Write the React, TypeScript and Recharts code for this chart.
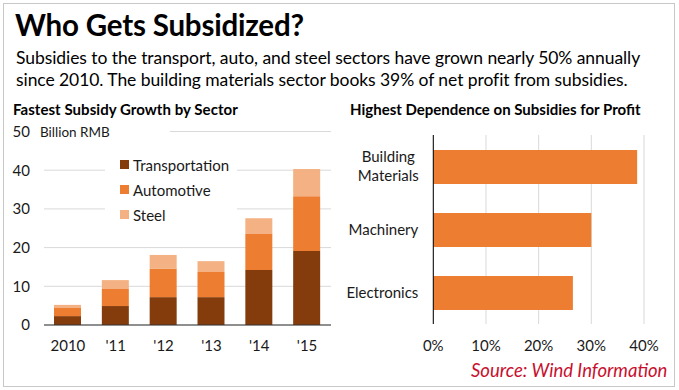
import React from "react";
import {
  BarChart,
  Bar,
  XAxis,
  YAxis,
  CartesianGrid,
  Legend,
} from "recharts";

const years = ["2010", "'11", "'12", "'13", "'14", "'15"];
const transportation = [2.3, 4.9, 7.2, 7.2, 14.2, 19.1];
const automotive = [2.1, 4.4, 7.3, 6.5, 9.3, 14.2];
const steel = [0.8, 2.3, 3.6, 2.8, 4.1, 7.0];
const yTicks = [0, 10, 20, 30, 40, 50];

const sectors = ["Building Materials", "Machinery", "Electronics"];
const dependence = [0.387, 0.3, 0.265];
const pctTicks = [0, 0.1, 0.2, 0.3, 0.4];

const growthData = years.map((y, i) => ({
  year: y,
  Transportation: transportation[i],
  Automotive: automotive[i],
  Steel: steel[i],
}));
const depData = sectors.map((s, i) => ({ sector: s, value: dependence[i] }));

const FONT = "Lato, 'Open Sans', sans-serif";
const C_TRANS = "#843c0c";
const C_AUTO = "#ed7d31";
const C_STEEL = "#f4b183";
const GRID = "#d9d9d9";
const TEXT = "#1a1a1a";

const legendItems = [
  { name: "Transportation", color: C_TRANS },
  { name: "Automotive", color: C_AUTO },
  { name: "Steel", color: C_STEEL },
];

const LegendContent = () => (
  <div style={{ background: "#fff", padding: "0 6px 0 15px" }}>
    {legendItems.map((it) => (
      <div
        key={it.name}
        style={{
          display: "flex",
          alignItems: "center",
          height: 25,
          fontFamily: FONT,
          fontSize: 15,
          color: TEXT,
        }}
      >
        <span
          style={{
            display: "inline-block",
            width: 9,
            height: 9,
            background: it.color,
            marginRight: 4,
          }}
        />
        <span>{it.name}</span>
      </div>
    ))}
  </div>
);

const SectorTick = (props: any) => {
  const { x, y, payload } = props;
  const words: string[] = String(payload.value).split(" ");
  const multi = words.length > 1;
  const lh = 19;
  const start = -((words.length - 1) * lh) / 2;
  return (
    <text
      x={x}
      y={y}
      textAnchor={multi ? "middle" : "end"}
      fontFamily={FONT}
      fontSize={15}
      fill={TEXT}
    >
      {words.map((l, i) => (
        <tspan key={i} x={multi ? x - 37 : x - 7} y={y + start + i * lh} dy="0.35em">
          {l}
        </tspan>
      ))}
    </text>
  );
};

export default function App() {
  return (
    <div
      style={{
        position: "absolute",
        left: 0,
        top: 0,
        width: 679,
        height: 390,
        background: "#fff",
        fontFamily: FONT,
        overflow: "hidden",
      }}
    >
      <div
        style={{
          position: "absolute",
          left: 3,
          top: 3,
          width: 670,
          height: 382,
          border: "1px solid #c8c8c8",
        }}
      />
      <div
        style={{
          position: "absolute",
          left: 15,
          top: 7,
          fontSize: 29.5,
          fontWeight: 700,
          color: "#000",
          letterSpacing: -0.2,
          lineHeight: "36px",
          whiteSpace: "nowrap",
        }}
      >
        Who Gets Subsidized?
      </div>
      <div
        style={{
          position: "absolute",
          left: 16,
          top: 47,
          fontSize: 17.5,
          color: "#000",
          lineHeight: "22px",
          letterSpacing: -0.07,
          whiteSpace: "nowrap",
        }}
      >
        Subsidies to the transport, auto, and steel sectors have grown nearly 50% annually
        <br />
        since 2010. The building materials sector books 39% of net profit from subsidies.
      </div>

      {/* Left chart */}
      <div
        style={{
          position: "absolute",
          left: 13,
          top: 100,
          fontSize: 15,
          fontWeight: 700,
          color: "#000",
          whiteSpace: "nowrap",
          letterSpacing: 0.05,
        }}
      >
        Fastest Subsidy Growth by Sector
      </div>
      <div style={{ position: "absolute", left: 0, top: 0 }}>
        <BarChart
          width={340}
          height={390}
          data={growthData}
          margin={{ top: 131.5, right: 9, left: 0, bottom: 35 }}
        >
          <CartesianGrid vertical={false} stroke={GRID} />
          <XAxis
            dataKey="year"
            height={30}
            axisLine={{ stroke: "#333" }}
            tickLine={false}
            tickMargin={9}
            tick={{ fontFamily: FONT, fontSize: 15, fill: TEXT }}
            interval={0}
          />
          <YAxis
            width={44}
            domain={[0, 50]}
            ticks={yTicks}
            axisLine={false}
            tickLine={false}
            tickMargin={8}
            tick={{ fontFamily: FONT, fontSize: 15, fill: TEXT }}
            interval={0}
          />
          <Legend
            layout="horizontal"
            verticalAlign="middle"
            align="center"
            content={<LegendContent />}
            wrapperStyle={{ left: 105, top: 152, width: 132 }}
          />
          <Bar dataKey="Transportation" stackId="a" fill={C_TRANS} barSize={27} isAnimationActive={false} />
          <Bar dataKey="Automotive" stackId="a" fill={C_AUTO} barSize={27} isAnimationActive={false} />
          <Bar dataKey="Steel" stackId="a" fill={C_STEEL} barSize={27} isAnimationActive={false} />
        </BarChart>
      </div>
      <div
        style={{
          position: "absolute",
          left: 37,
          top: 123,
          width: 130,
          height: 18,
          background: "#fff",
          fontSize: 13.5,
          color: TEXT,
          lineHeight: "18px",
          paddingLeft: 3,
          whiteSpace: "nowrap",
        }}
      >
        Billion RMB
      </div>

      {/* Right chart */}
      <div
        style={{
          position: "absolute",
          left: 350,
          top: 100,
          fontSize: 15,
          fontWeight: 700,
          color: "#000",
          whiteSpace: "nowrap",
        }}
      >
        Highest Dependence on Subsidies for Profit
      </div>
      <div style={{ position: "absolute", left: 340, top: 0 }}>
        <BarChart
          width={339}
          height={390}
          data={depData}
          layout="vertical"
          margin={{ top: 135, right: 35, left: 0, bottom: 36 }}
        >
          <CartesianGrid horizontal={false} stroke={GRID} />
          <XAxis
            type="number"
            height={30}
            domain={[0, 0.4]}
            ticks={pctTicks}
            tickFormatter={(v: number) => `${Math.round(v * 100)}%`}
            axisLine={false}
            tickLine={false}
            tickMargin={10}
            tick={{ fontFamily: FONT, fontSize: 15, fill: TEXT }}
            interval={0}
          />
          <YAxis
            type="category"
            dataKey="sector"
            width={93.3}
            axisLine={{ stroke: "#000" }}
            tickLine={false}
            tick={<SectorTick />}
            interval={0}
          />
          <Bar dataKey="value" fill={C_AUTO} barSize={34} isAnimationActive={false} />
        </BarChart>
      </div>
      <div
        style={{
          position: "absolute",
          left: 471,
          top: 359,
          fontSize: 18.5,
          fontStyle: "italic",
          color: "#c8102e",
          whiteSpace: "nowrap",
          lineHeight: "22px",
        }}
      >
        Source: Wind Information
      </div>
    </div>
  );
}
